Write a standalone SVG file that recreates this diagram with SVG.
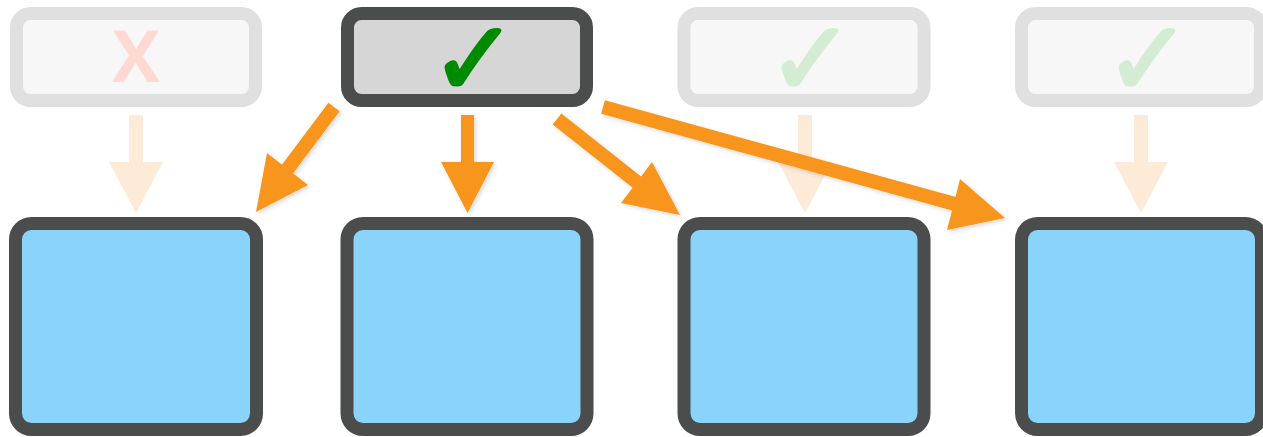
<svg xmlns="http://www.w3.org/2000/svg" width="1263" height="437" viewBox="0 0 1263 437">
<style>
.top{stroke:#4b4c4c;stroke-width:13;fill:#d6d6d6}
.topf{stroke:#e0e0e0;stroke-width:13;fill:#f7f7f7}
.bot{stroke:#4b4c4c;stroke-width:13;fill:#8ad3fb}
.ck{font-family:"DejaVu Sans",sans-serif;font-size:104px;text-anchor:middle;stroke-width:3;stroke-linejoin:round}
.x{font-family:"Open Sans",sans-serif;font-weight:bold;font-size:72px;text-anchor:middle;fill:#fdd9d2}
.arr{fill:#f8951d}
.farr{fill:#fdebd8}
</style>
<defs>
<filter id="sh" x="-10%" y="-10%" width="130%" height="130%">
<feDropShadow dx="2" dy="2" stdDeviation="2" flood-color="#000" flood-opacity="0.15"/>
</filter>
</defs>
<g id="top1"><rect class="topf" x="16.5" y="13.5" width="239" height="87" rx="14"/><text class="x" x="136" y="82">X</text></g>
<g id="top2"><rect class="top" x="347.5" y="13.5" width="239" height="87" rx="14"/><text class="ck" x="474" y="95" fill="#008a00" stroke="#008a00">✓</text></g>
<g id="top3"><rect class="topf" x="684" y="13.5" width="240" height="87" rx="14"/><text class="ck" x="811" y="95" fill="#d4ecd4" stroke="#d4ecd4">✓</text></g>
<g id="top4"><rect class="topf" x="1021.5" y="13.5" width="239" height="87" rx="14"/><text class="ck" x="1148" y="95" fill="#d4ecd4" stroke="#d4ecd4">✓</text></g>
<g id="bot1"><rect class="bot" x="15.5" y="223.5" width="241" height="206" rx="16"/></g>
<g id="bot2"><rect class="bot" x="347" y="223.5" width="240" height="206" rx="16"/></g>
<g id="bot3"><rect class="bot" x="684" y="223.5" width="240" height="206" rx="16"/></g>
<g id="bot4"><rect class="bot" x="1021.5" y="223.5" width="240" height="206" rx="16"/></g>
<g id="connectors">
<polygon class="farr" points="129,115 143,115 143,162 163,162 136,213 109,162 129,162"/>
<polygon class="farr" points="798,115 812,115 812,162 832,162 805,213 778,162 798,162"/>
<polygon class="farr" points="1134,115 1148,115 1148,162 1168,162 1141,213 1114,162 1134,162"/>
<g filter="url(#sh)">
<polygon class="arr" points="461,115 474,115 474,162 494,162 467.5,213 441,162 461,162"/>
<line x1="334" y1="107" x2="286" y2="171" stroke="#f8951d" stroke-width="14"/>
<polygon class="arr" points="256,212 267,153 308,185"/>
<line x1="557" y1="119" x2="638" y2="183" stroke="#f8951d" stroke-width="14"/>
<polygon class="arr" points="680,215 652,162 621,203"/>
<line x1="603" y1="107" x2="955" y2="204" stroke="#f8951d" stroke-width="14"/>
<polygon class="arr" points="1005,218 960,179 947,230"/>
</g>
</g>
</svg>
